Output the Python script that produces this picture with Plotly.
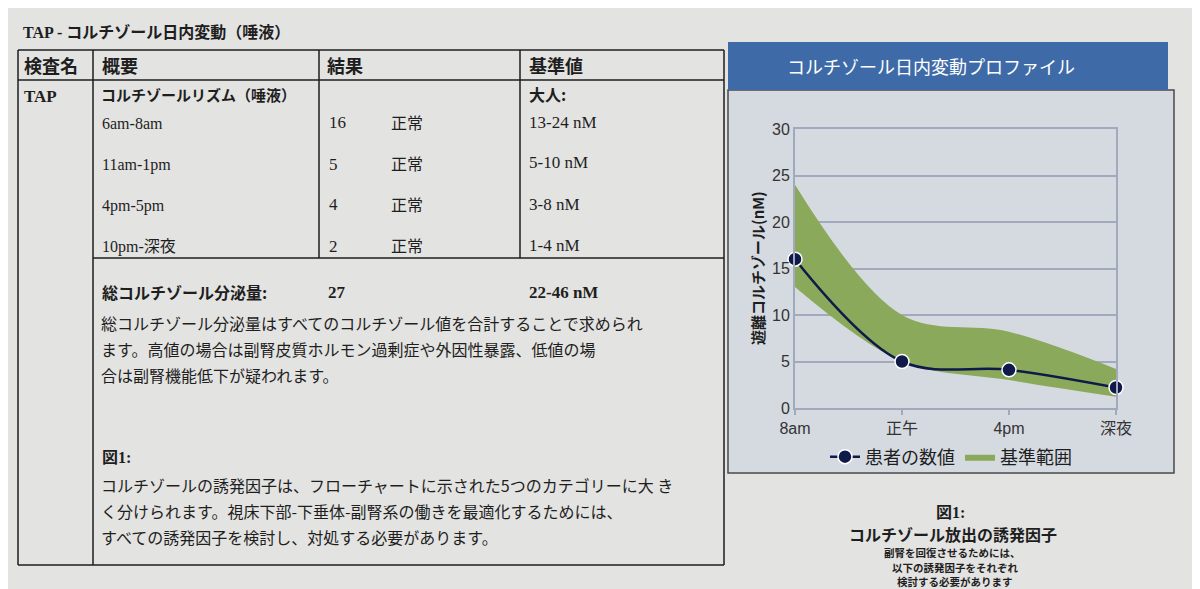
import plotly.graph_objects as go

# chart data
times = ['8am', '正午', '4pm', '深夜']
patient = [16, 5, 4.1, 2.2]
ref_low = [13, 5, 3, 1.2]
ref_high = [24, 10, 8.2, 4.2]

# table data
row_labels = ['6am-8am', '11am-1pm', '4pm-5pm', '10pm-深夜']
row_results = ['16', '5', '4', '2']
row_status = ['正常', '正常', '正常', '正常']
row_ranges = ['13-24 nM', '5-10 nM', '3-8 nM', '1-4 nM']
headers = ['検査名', '概要', '結果', '基準値']
total_result = '27'
total_range = '22-46 nM'

W, H = 1200, 589
OFF = 8  # page margin around the figure div
JP = 'Noto Sans CJK JP'
SERIF = 'Liberation Serif, Noto Sans CJK JP'
SANS = 'Liberation Sans, Noto Sans CJK JP'
INK = '#1e1e1e'


def px(x):
    return (x - OFF) / W


def py(y):
    return 1 - (y - OFF) / H


fig = go.Figure()

# reference band
fig.add_trace(go.Scatter(x=times, y=ref_low, mode='lines', line=dict(width=0, shape='spline'),
                         showlegend=False, hoverinfo='skip'))
fig.add_trace(go.Scatter(x=times, y=ref_high, mode='lines', line=dict(width=0, shape='spline'),
                         fill='tonexty', fillcolor='#8aa95b', name='基準範囲'))
# patient values
fig.add_trace(go.Scatter(x=times, y=patient, mode='lines+markers', name='患者の数値',
                         line=dict(color='#101a4a', width=2.5, shape='spline'),
                         marker=dict(size=14, color='#101a4a', line=dict(color='white', width=1.5)),
                         cliponaxis=False))

shapes = []
# chart banner and panel
shapes.append(dict(type='rect', xref='paper', yref='paper', x0=px(728), x1=px(1174), y0=py(473), y1=py(90),
                   fillcolor='#d5dae1', line=dict(color='#4a4a4a', width=1.5), layer='below'))
shapes.append(dict(type='rect', xref='paper', yref='paper', x0=px(728), x1=px(1168), y0=py(90), y1=py(42),
                   fillcolor='#3e6ba7', line=dict(width=0), layer='below'))


# table lines
def hline(y, x0, x1):
    shapes.append(dict(type='line', xref='paper', yref='paper', x0=px(x0), x1=px(x1), y0=py(y), y1=py(y),
                       line=dict(color=INK, width=1.5)))


def vline(x, y0, y1):
    shapes.append(dict(type='line', xref='paper', yref='paper', x0=px(x), x1=px(x), y0=py(y0), y1=py(y1),
                       line=dict(color=INK, width=1.5)))


hline(50, 18, 724)
hline(80, 18, 724)
hline(258, 93, 724)
hline(565, 18, 724)
vline(18, 50, 565)
vline(724, 50, 565)
vline(93, 50, 565)
vline(319, 50, 258)
vline(520, 50, 258)

ann = []


def text(x, y, s, size=16, family=JP, bold=False, color=INK, anchor='left'):
    ann.append(dict(x=px(x), y=py(y), xref='paper', yref='paper', text=s, showarrow=False,
                    xanchor=anchor, yanchor='middle',
                    font=dict(family=family, size=size, color=color, weight='bold' if bold else 'normal')))


text(21, 32, 'TAP - コルチゾール日内変動（唾液）', 16, SERIF, True)
for x, h in zip([22, 100, 325, 527], headers):
    text(x, 65, h, 18, JP, True)
text(22, 97, 'TAP', 17, SERIF, True)
text(99, 95, 'コルチゾールリズム（唾液）', 15, JP, True)
text(527, 94, '大人:', 16, JP, True)
for i in range(len(row_labels)):
    y = 123 + i * 41
    text(100, y + 1, row_labels[i], 16, SERIF)
    text(327, y, row_results[i], 17, SERIF)
    text(389, y - 1, row_status[i], 16, JP)
    text(527, y - 1, row_ranges[i], 17, SERIF)
text(100, 292, '総コルチゾール分泌量:', 16, JP, True)
text(326, 292, total_result, 17, SERIF, True)
text(527, 292, total_range, 17, SERIF, True)
para1 = ['総コルチゾール分泌量はすべてのコルチゾール値を合計することで求められ',
         'ます。高値の場合は副腎皮質ホルモン過剰症や外因性暴露、低値の場',
         '合は副腎機能低下が疑われます。']
for i, s in enumerate(para1):
    text(99, 323 + i * 26, s, 16)
text(100, 457, '図1:', 16, SERIF, True)
para2 = ['コルチゾールの誘発因子は、フローチャートに示された5つのカテゴリーに大 き',
         'く分けられます。視床下部-下垂体-副腎系の働きを最適化するためには、',
         'すべての誘発因子を検討し、対処する必要があります。']
for i, s in enumerate(para2):
    text(99, 485 + i * 26, s, 16)

# chart texts
text(931, 66, 'コルチゾール日内変動プロファイル', 18, JP, False, 'white', 'center')
ann.append(dict(x=px(758), y=py(268), xref='paper', yref='paper', text='遊離コルチゾール(nM)', showarrow=False,
                textangle=-90, font=dict(family=JP, size=15, color=INK, weight='bold')))
text(950, 512, '図1:', 16, SERIF, True, anchor='center')
text(953, 534, 'コルチゾール放出の誘発因子', 16, JP, True, anchor='center')
text(952, 552, '副腎を回復させるためには、', 10.5, JP, True, anchor='center')
text(955, 567, '以下の誘発因子をそれぞれ', 10.5, JP, True, anchor='center')
text(955, 581, '検討する必要があります', 10.5, JP, True, anchor='center')

grid = '#a3a9bd'
fig.update_layout(
    width=W, height=H, autosize=False,
    margin=dict(l=0, r=0, t=0, b=0, pad=0, autoexpand=False),
    paper_bgcolor='#e3e3e1',
    plot_bgcolor='#e3e2dd',
    shapes=shapes,
    annotations=ann,
    xaxis=dict(domain=[px(795), px(1116)], range=[0, 3], type='category', automargin=False,
               showgrid=False, showline=True, linecolor=grid, linewidth=2, mirror=True,
               ticks='outside', ticklen=5, tickcolor=grid, tickwidth=2,
               tickfont=dict(family=SANS, size=16, color='#333333'), fixedrange=True),
    yaxis=dict(domain=[py(408), py(129)], range=[0, 30], dtick=5, automargin=False,
               showgrid=True, gridcolor=grid, gridwidth=2, zeroline=False,
               showline=True, linecolor=grid, linewidth=2, mirror=True,
               tickfont=dict(family=SANS, size=16, color='#333333'), fixedrange=True),
    legend=dict(orientation='h', x=px(951), y=py(457), xanchor='center', yanchor='middle',
                bgcolor='rgba(0,0,0,0)', font=dict(family=JP, size=18, color=INK),
                traceorder='reversed'),
    showlegend=True,
)

fig.write_html("out.html")
